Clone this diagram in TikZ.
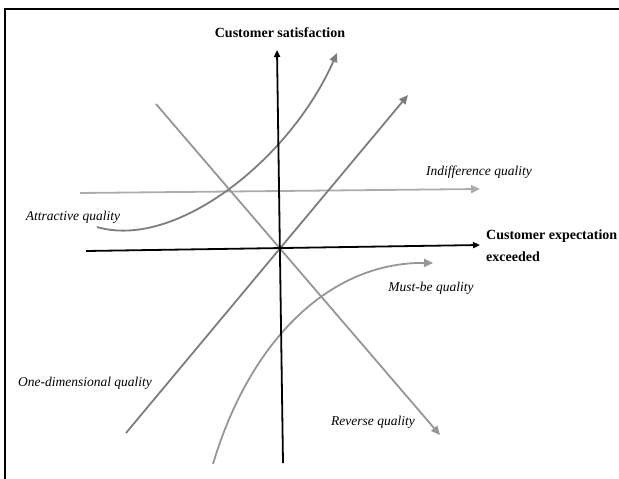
\documentclass[tikz,border=0pt]{standalone}
\usepackage{fontspec}
\setmainfont{Liberation Serif}
\usetikzlibrary{arrows.meta,positioning}
\definecolor{darkgrey}{RGB}{125,125,125}
\definecolor{midgrey}{RGB}{150,150,150}
\definecolor{lightgrey}{RGB}{172,172,172}

\begin{document}
\begin{tikzpicture}[
        x=1pt, y=-1pt,
        axis/.style={
            line width=1.8pt,
            -{Triangle[length=7pt,width=6pt]},
            color=black
        },
        curve/.style={
            line width=1.8pt,
            -{Triangle[length=9pt,width=8pt]}
        },
        axislabel/.style={
            font=\fontsize{14}{22}\selectfont\bfseries,
            inner sep=0pt
        },
        qlabel/.style={
            font=\fontsize{13.5}{16}\selectfont\itshape,
            inner sep=0pt
        }
    ]

    \useasboundingbox (0,0) rectangle (619,479);

    % Frame (top and left edge)
    \draw[line width=2pt] (5,479) -- (5,9) -- (619,9);

    % End points
    \coordinate (ybot) at (283,463);
    \coordinate (ytop) at (277,50);
    \coordinate (xleft) at (86,251);
    \coordinate (xright) at (480,245);
    \coordinate (indstart) at (80,193);
    \coordinate (indend) at (480,189);
    \coordinate (onestart) at (126,433);
    \coordinate (oneend) at (408,95);
    \coordinate (revstart) at (156,104);
    \coordinate (revend) at (440,435);
    \coordinate (attstart) at (97,227);
    \coordinate (attend) at (337,53);
    \coordinate (muststart) at (213,464);
    \coordinate (mustend) at (433,263);

    % Quality lines
    \draw[curve, lightgrey] (indstart) -- (indend);
    \draw[curve, midgrey] (revstart) -- (revend);
    \draw[curve, darkgrey] (onestart) -- (oneend);
    \draw[curve, darkgrey] (attstart) .. controls (175,250) and (290,160) .. (attend);
    \draw[curve, midgrey] (muststart) .. controls (250,340) and (330,262) .. (mustend);

    % Axes
    \draw[axis] (ybot) -- (ytop);
    \draw[axis] (xleft) -- (xright);

    % Axis labels
    \node[axislabel] (ylabel) at (280,33) {Customer satisfaction};
    \node[axislabel, anchor=west, align=left] (xlabel) at (486,246) {Customer expectation\\exceeded};

    % Quality labels
    \node[qlabel] (indlabel) at (479,172) {Indifference quality};
    \node[qlabel] (attlabel) at (73,217) {Attractive quality};
    \node[qlabel] (mustlabel) at (431,288) {Must-be quality};
    \node[qlabel] (onelabel) at (85,383) {One-dimensional quality};
    \node[qlabel] (revlabel) at (373,422) {Reverse quality};

\end{tikzpicture}
\end{document}
